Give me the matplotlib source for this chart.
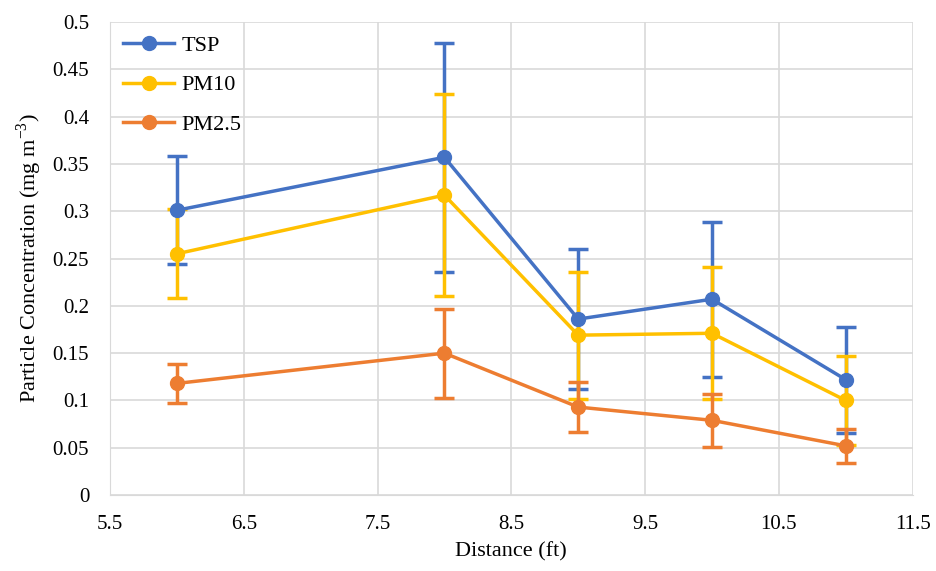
import matplotlib
matplotlib.use("Agg")
import matplotlib.pyplot as plt

plt.rcParams['font.family'] = ['Liberation Serif', 'DejaVu Serif']
plt.rcParams['mathtext.fontset'] = 'custom'
plt.rcParams['mathtext.rm'] = 'Liberation Serif'

distance = [6, 8, 9, 10, 11]
tsp = [0.301, 0.357, 0.186, 0.207, 0.122]
tsp_err = [0.057, 0.121, 0.074, 0.082, 0.056]
pm10 = [0.255, 0.317, 0.169, 0.171, 0.100]
pm10_err = [0.047, 0.107, 0.067, 0.070, 0.047]
pm25 = [0.118, 0.150, 0.093, 0.079, 0.052]
pm25_err = [0.021, 0.047, 0.026, 0.028, 0.018]

series = [("TSP", tsp, tsp_err, "#4472C4"),
          ("PM10", pm10, pm10_err, "#FFC000"),
          ("PM2.5", pm25, pm25_err, "#ED7D31")]

fig = plt.figure(figsize=(9.36, 5.71), dpi=100)
ax = fig.add_axes([0.1175, 0.133, 0.8575, 0.8285])

for i, (name, vals, err, col) in enumerate(series):
    ax.errorbar(distance, vals, yerr=err, fmt='none', ecolor=col, elinewidth=2.5,
                capsize=7, capthick=2.5, zorder=2 + i)
for i, (name, vals, err, col) in enumerate(series):
    ax.plot(distance, vals, color=col, lw=2.5, marker='o', markersize=10,
            label=name, zorder=6 + i)

ax.set_xlim(5.5, 11.5)
ax.set_ylim(0, 0.5)
ax.set_xticks([5.5, 6.5, 7.5, 8.5, 9.5, 10.5, 11.5])
ax.set_xticklabels(['5.5', '6.5', '7.5', '8.5', '9.5', '10.5', '11.5'])
ax.set_yticks([0, 0.05, 0.1, 0.15, 0.2, 0.25, 0.3, 0.35, 0.4, 0.45, 0.5])
ax.set_yticklabels(['0', '0.05', '0.1', '0.15', '0.2', '0.25', '0.3', '0.35', '0.4', '0.45', '0.5'])
ax.grid(True, color='#D9D9D9', lw=1.2, zorder=0)
ax.set_axisbelow(True)
for s in ['top', 'right']:
    ax.spines[s].set_visible(False)
ax.spines['left'].set_color('#D9D9D9')
ax.spines['bottom'].set_color('#D9D9D9')
ax.tick_params(axis='y', length=0, labelsize=15, pad=15)
ax.tick_params(axis='x', length=0, labelsize=15, pad=14)
ax.set_xlabel('Distance (ft)', fontsize=16, labelpad=6)
ax.set_ylabel('Particle Concentration (mg m$^{\\mathrm{-3}}$)', fontsize=16, labelpad=6)

leg = ax.legend(loc='upper left', frameon=False, fontsize=16, handlelength=2.3,
                handletextpad=0.3, borderaxespad=0.2, labelspacing=0.85,
                bbox_to_anchor=(0.0, 1.0))

fig.savefig('out.png', dpi=100)
